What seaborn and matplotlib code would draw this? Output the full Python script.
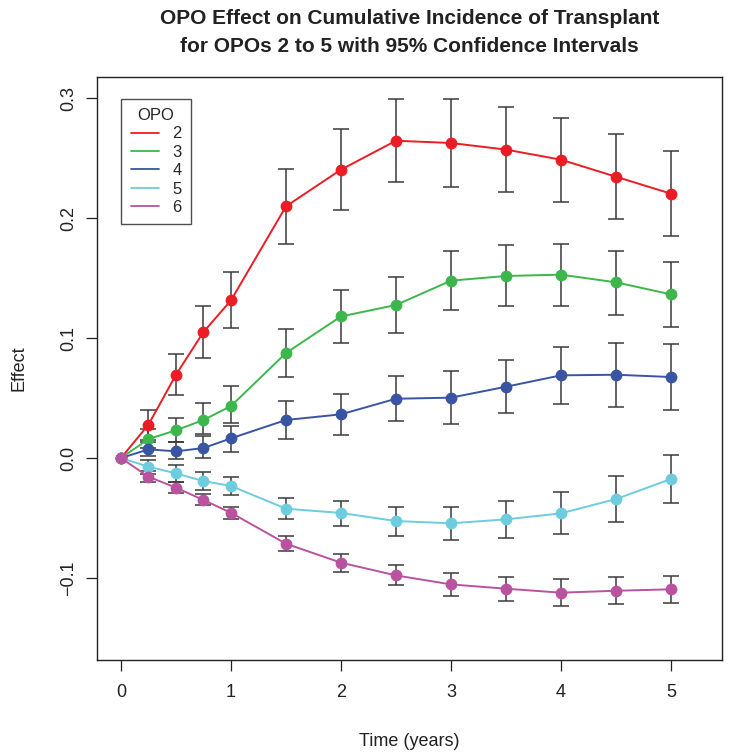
import numpy as np
import pandas as pd
import matplotlib
matplotlib.use("Agg")
import matplotlib.pyplot as plt
from matplotlib.lines import Line2D
import seaborn as sns

# ---------------- data ----------------
times = [0, 0.25, 0.5, 0.75, 1, 1.5, 2, 2.5, 3, 3.5, 4, 4.5, 5]
opos = ["2", "3", "4", "5", "6"]

eff_2 = [0, 0.0278, 0.0694, 0.105, 0.1314, 0.2097, 0.2403, 0.2644, 0.2625, 0.257, 0.2486, 0.2344, 0.2203]
lo_2 = [0, 0.015, 0.0528, 0.083, 0.108, 0.1783, 0.2067, 0.2303, 0.226, 0.222, 0.2136, 0.1989, 0.1847]
hi_2 = [0, 0.040, 0.0864, 0.127, 0.155, 0.2411, 0.274, 0.299, 0.299, 0.2925, 0.2836, 0.2703, 0.2561]

eff_3 = [0, 0.0158, 0.0231, 0.0317, 0.0433, 0.0875, 0.118, 0.1275, 0.1478, 0.1517, 0.1528, 0.1464, 0.1364]
lo_3 = [0, 0.008, 0.0136, 0.020, 0.0289, 0.0672, 0.0958, 0.104, 0.1233, 0.1264, 0.1267, 0.1194, 0.1094]
hi_3 = [0, 0.024, 0.0336, 0.0456, 0.060, 0.1075, 0.140, 0.151, 0.1725, 0.1772, 0.1786, 0.1728, 0.1633]

eff_4 = [0, 0.0072, 0.0056, 0.0083, 0.0164, 0.0317, 0.0364, 0.0494, 0.0503, 0.0594, 0.0689, 0.0694, 0.0675]
lo_4 = [0, 0.002, -0.001, 0.000, 0.0053, 0.0158, 0.0194, 0.0306, 0.0286, 0.0372, 0.0447, 0.0428, 0.040]
hi_4 = [0, 0.013, 0.013, 0.018, 0.027, 0.0475, 0.0536, 0.0683, 0.0722, 0.0817, 0.0928, 0.0961, 0.0947]

eff_5 = [0, -0.0072, -0.0128, -0.0192, -0.0233, -0.0422, -0.0458, -0.0525, -0.0544, -0.0511, -0.0461, -0.0342, -0.0175]
lo_5 = [0, -0.013, -0.020, -0.0267, -0.031, -0.0511, -0.0564, -0.0647, -0.0683, -0.0667, -0.0636, -0.0533, -0.0375]
hi_5 = [0, -0.0017, -0.006, -0.012, -0.0156, -0.0331, -0.0358, -0.0406, -0.0406, -0.0356, -0.0286, -0.0147, 0.0025]

eff_6 = [0, -0.0156, -0.0247, -0.035, -0.0456, -0.0714, -0.0872, -0.0978, -0.1053, -0.1089, -0.1122, -0.1106, -0.1094]
lo_6 = [0, -0.020, -0.029, -0.039, -0.0508, -0.0772, -0.095, -0.1061, -0.1147, -0.1194, -0.1231, -0.1217, -0.1211]
hi_6 = [0, -0.011, -0.020, -0.0303, -0.041, -0.065, -0.0797, -0.0892, -0.0961, -0.0989, -0.1011, -0.0994, -0.0981]

colors = ["#EC1C24", "#3DB64B", "#3A54A4", "#6DCCDD", "#B9529F"]

title_lines = ["OPO Effect on Cumulative Incidence of Transplant",
               "for OPOs 2 to 5 with 95% Confidence Intervals"]

effects = [eff_2, eff_3, eff_4, eff_5, eff_6]
lows = [lo_2, lo_3, lo_4, lo_5, lo_6]
highs = [hi_2, hi_3, hi_4, hi_5, hi_6]

rows = []
for o, e, l, h in zip(opos, effects, lows, highs):
    for t, ev, lv, hv in zip(times, e, l, h):
        rows.append({"time": t, "effect": ev, "lo": lv, "hi": hv, "opo": o})
df = pd.DataFrame(rows)

# ---------------- plot ----------------
sns.set_style("white")
plt.rcParams["font.family"] = ["Liberation Sans", "DejaVu Sans"]

W, H = 738, 755
fig = plt.figure(figsize=(W / 100, H / 100), dpi=100)
ax = fig.add_axes([97 / W, 1 - 660 / H, (722 - 97) / W, (660 - 77) / H])

# error bars (under the lines)
for o in opos:
    sub = df[df["opo"] == o]
    sub = sub[sub["time"] > 0]
    ax.errorbar(sub["time"], sub["effect"],
                yerr=[sub["effect"] - sub["lo"], sub["hi"] - sub["effect"]],
                fmt="none", ecolor="#3a3a3a", elinewidth=1.1, capsize=6,
                capthick=1.1, zorder=1)

sns.lineplot(data=df, x="time", y="effect", hue="opo", hue_order=opos,
             palette=colors, marker="o", markersize=8.5, markeredgewidth=0,
             linewidth=1.4, legend=False, ax=ax, zorder=3)

ax.set_xlim(-0.218, 5.464)
ax.set_ylim(-0.1683, 0.3175)
ax.set_xticks([0, 1, 2, 3, 4, 5])
ax.set_yticks([-0.1, 0.0, 0.1, 0.2, 0.3])
ax.set_yticklabels(["\u22120.1", "0.0", "0.1", "0.2", "0.3"], rotation=90, va="center")
ax.tick_params(axis="both", direction="out", length=8, width=0.9, color="#222222",
               labelsize=13, labelcolor="#222222", left=True, bottom=True)
ax.tick_params(axis="x", pad=9)
ax.tick_params(axis="y", pad=6.5)
for s in ax.spines.values():
    s.set_color("#222222")
    s.set_linewidth(1.0)

ax.set_xlabel("Time (years)", fontsize=13, labelpad=23, color="#222222")
ax.set_ylabel("Effect", fontsize=13, labelpad=23, color="#222222")

fig.text(0.555, 1 - 19 / H, title_lines[0], ha="center", va="center",
         fontsize=15, fontweight="bold", color="#222222")
fig.text(0.555, 1 - 47 / H, title_lines[1], ha="center", va="center",
         fontsize=15, fontweight="bold", color="#222222")

handles = [Line2D([0], [0], color=c, lw=1.3) for c in colors]
leg = ax.legend(handles, opos, title="OPO", loc="upper left",
                bbox_to_anchor=(121.5 / W, 1 - 99 / H), bbox_transform=fig.transFigure,
                frameon=True, fancybox=False,
                edgecolor="#222222", fontsize=12, title_fontsize=12,
                handlelength=1.7, handletextpad=0.8, borderpad=0.55,
                labelspacing=0.2, borderaxespad=0)
leg.get_frame().set_linewidth(1.0)

fig.savefig("out.png", dpi=100, facecolor="white")
